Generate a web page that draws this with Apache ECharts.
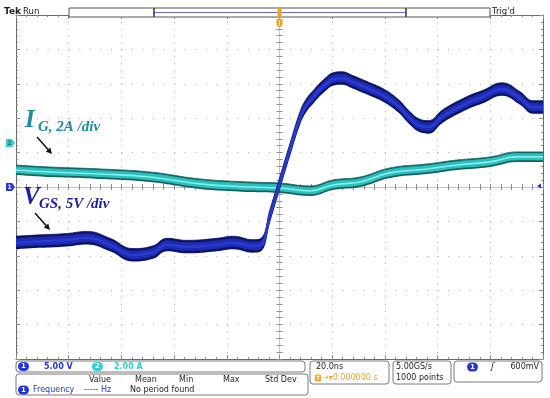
<!DOCTYPE html>
<html><head><meta charset="utf-8">
<script src="https://cdn.jsdelivr.net/npm/echarts@6/dist/echarts.min.js"></script>
<style>html,body{margin:0;padding:0;background:#fff}#c{width:550px;height:398px}</style>
</head><body><div id="c"></div>
<script>
const timeTicksNs = [-100, -80, -60, -40, -20, 0, 20, 40, 60, 80, 100]; // 20 ns/div
const vgsTicksV = [-25, -20, -15, -10, -5, 0, 5, 10, 15, 20, 25];       // 5 V/div
const igScaleA = 2;          // 2 A/div
const ch2PositionDiv = 1.28; // CH2 ground marker above centre

const vgsTimeNs = [-100, -90.9, -80.6, -73.1, -64.3, -55.6, -48.0, -42.7, -35.1, -23.7, -17.6, -10.1, -7.0, -3.6, 0.2, 4.0, 7.8, 10.1, 13.1, 16.9, 20.7, 23.7, 27.5, 34.3, 40.0, 45.0, 49.5, 53.3, 56.4, 62.0, 71.2, 77.2, 84.4, 91.3, 96.2, 100];
const vgsVolts  = [-8.1, -7.9, -7.7, -7.4, -8.4, -9.9, -9.5, -8.4, -8.7, -8.4, -8.1, -8.6, -8.4, -4.2, 0.6, 5.4, 10.0, 11.8, 13.2, 14.7, 15.7, 15.8, 15.3, 14.2, 13.2, 11.8, 10.0, 8.9, 8.7, 10.3, 12.2, 13.1, 14.2, 12.9, 11.6, 11.6];

const igTimeNs = [-100, -87.1, -68.1, -49.1, -30.2, -11.2, 0, 11.6, 20.3, 30.6, 41.9, 56.0, 67.4, 79.9, 90.1, 100];
const igAmps   = [-1.57, -1.69, -1.80, -1.98, -2.38, -2.56, -2.62, -2.79, -2.44, -2.27, -1.74, -1.51, -1.28, -1.10, -0.81, -0.81];

// ---- chart ----
const chart = echarts.init(document.getElementById('c'), null, {renderer: 'canvas'});
const tMin = timeTicksNs[0], tMax = timeTicksNs[timeTicksNs.length - 1], tInt = timeTicksNs[1] - timeTicksNs[0];
const vMin = vgsTicksV[0], vMax = vgsTicksV[vgsTicksV.length - 1], vInt = vgsTicksV[1] - vgsTicksV[0];
const gridH = 344;
const igMin = -(5 + ch2PositionDiv) * igScaleA, igMax = (5 - ch2PositionDiv) * igScaleA;
const frameColor = '#6a6a6a', tickColor = '#8c8c8c', dotColor = '#a8a8a8', centerColor = '#c4c4c4';

function xAx(pos, center, split) {
  return {
    type: 'value', position: pos, min: tMin, max: tMax, interval: tInt,
    axisLine: {show: true, onZero: center, onZeroAxisIndex: 0, lineStyle: {color: center ? centerColor : frameColor, width: 1}},
    axisTick: {show: true, inside: !center, length: center ? 3 : 4, lineStyle: {color: tickColor}},
    minorTick: {show: true, splitNumber: 5, length: center ? 3 : 2, lineStyle: {color: tickColor}},
    axisLabel: {show: false},
    splitLine: {show: split, lineStyle: {color: dotColor, width: 1, type: [1, 5.88]}}
  };
}
function yAx(pos, center, split) {
  return {
    type: 'value', position: pos, min: vMin, max: vMax, interval: vInt,
    axisLine: {show: true, onZero: center, onZeroAxisIndex: 0, lineStyle: {color: center ? centerColor : frameColor, width: 1}},
    axisTick: {show: true, inside: !center, length: center ? 3 : 4, lineStyle: {color: tickColor}},
    minorTick: {show: true, splitNumber: 5, length: center ? 3 : 2, lineStyle: {color: tickColor}},
    axisLabel: {show: false},
    splitLine: {show: split, lineStyle: {color: dotColor, width: 1, type: [1, 9.54]}}
  };
}

const vgsData = vgsTimeNs.map((t, i) => [t, vgsVolts[i]]);
const igData = igTimeNs.map((t, i) => [t, igAmps[i]]);

const SMOOTH = 0.45;
// A scope trace is a vertical noise band around the signal: drawn as a stacked area of fixed pixel height.
// Columns are [value, time] so that the stack is applied to the y (value) dimension.
function band(data, yIdx, unitPerPx, halfPx, color, z, id) {
  const h = halfPx * unitPerPx;
  const base = {type: 'line', xAxisIndex: 0, yAxisIndex: yIdx, stack: id, stackStrategy: 'all', encode: {x: 1, y: 0},
    smooth: SMOOTH, showSymbol: false, symbol: 'none', silent: true, z: z};
  return [
    Object.assign({}, base, {data: data.map(d => [d[1] - h, d[0]]), lineStyle: {width: 0, opacity: 0}}),
    Object.assign({}, base, {data: data.map(d => [2 * h, d[0]]), lineStyle: {width: 0.8, color: color}, areaStyle: {color: color, opacity: 1}})
  ];
}
function line(data, yIdx, color, width, z) {
  return {type: 'line', xAxisIndex: 0, yAxisIndex: yIdx, data: data, smooth: SMOOTH, showSymbol: false, symbol: 'none', silent: true, z: z,
    lineStyle: {color: color, width: width}};
}
const vUpp = (vMax - vMin) / gridH, iUpp = (igMax - igMin) / gridH;

chart.setOption({
  animation: false,
  backgroundColor: '#ffffff',
  grid: {left: 16, top: 15, width: 527, height: gridH, containLabel: false, outerBoundsMode: 'none'},
  xAxis: [xAx('bottom', false, true), xAx('top', false, false), xAx('bottom', true, false), xAx('top', true, false)],
  yAxis: [yAx('left', false, true), yAx('right', false, false), yAx('left', true, false), yAx('right', true, false),
    {type: 'value', position: 'left', show: false, min: igMin, max: igMax, axisLine: {onZero: false}, splitLine: {show: false}}],
  series: [].concat(
    band(igData, 4, iUpp, 5, '#175f61', 3, 'ig1'),
    band(igData, 4, iUpp, 3.3, '#2bbfbd', 4, 'ig2'),
    [line(igData, 4, '#86efe9', 1.6, 5)],
    band(vgsData, 0, vUpp, 6.5, '#0d1364', 6, 'v1'),
    band(vgsData, 0, vUpp, 4, '#1e2cb4', 7, 'v2'),
    [line(vgsData, 0, '#2a3bd2', 2.4, 8)]
  )
});

// ---- decorations (screen annotations) ----
const p1 = chart.convertToPixel({xAxisIndex: 0, yAxisIndex: 0}, [tMin, 0]);
const p2 = chart.convertToPixel({xAxisIndex: 0, yAxisIndex: 4}, [tMin, 0]);
const pc = chart.convertToPixel({xAxisIndex: 0, yAxisIndex: 0}, [0, 0]);
const ui = 'DejaVu Sans';
const serif = 'Liberation Serif';

function txt(x, y, s, o) {
  return {type: 'text', x: x, y: y, z: 100, style: Object.assign({text: s, fontFamily: ui, fontSize: 8, fill: '#222', verticalAlign: 'middle', align: 'left'}, o || {})};
}
function box(x, y, w, h) {
  return {type: 'rect', z: 90, shape: {x: x, y: y, width: w, height: h, r: 3}, style: {fill: '#fff', stroke: '#7a7a7a', lineWidth: 1}};
}
function badge(x, y, color, label, textColor) {
  return [
    {type: 'rect', z: 100, shape: {x: x, y: y - 4.5, width: 11, height: 9, r: 4.5}, style: {fill: color}},
    txt(x + 5.5, y, label, {fill: textColor || '#fff', align: 'center', fontSize: 7, fontWeight: 'bold'})
  ];
}
function arrow(x1, y1, x2, y2) {
  const a = Math.atan2(y2 - y1, x2 - x1), L = 6, W = 3;
  const bx = x2 - L * Math.cos(a), by = y2 - L * Math.sin(a);
  return [
    {type: 'line', z: 100, shape: {x1: x1, y1: y1, x2: bx, y2: by}, style: {stroke: '#111', lineWidth: 1.5}},
    {type: 'polygon', z: 100, shape: {points: [[x2, y2], [bx + W * Math.sin(a), by - W * Math.cos(a)], [bx - W * Math.sin(a), by + W * Math.cos(a)]]}, style: {fill: '#111'}}
  ];
}

const orange = '#f2a324', blue1 = '#2436d6', cyan2 = '#35cfcf';
const g = [];
// top status line
g.push(txt(4, 12, 'Tek', {fontSize: 9, fontWeight: 'bold'}));
g.push(txt(23, 12, 'Run', {fontSize: 8.5}));
g.push({type: 'rect', z: 90, shape: {x: 69, y: 8, width: 421, height: 9}, style: {fill: '#fff', stroke: '#555', lineWidth: 1}});
g.push({type: 'line', z: 95, shape: {x1: 154, y1: 12.5, x2: 406, y2: 12.5}, style: {stroke: '#6a6ae0', lineWidth: 1.2}});
g.push({type: 'line', z: 95, shape: {x1: 154, y1: 8, x2: 154, y2: 17}, style: {stroke: '#333', lineWidth: 1.5}});
g.push({type: 'line', z: 95, shape: {x1: 406, y1: 8, x2: 406, y2: 17}, style: {stroke: '#333', lineWidth: 1.5}});
g.push({type: 'rect', z: 96, shape: {x: pc[0] - 2, y: 7.5, width: 4, height: 10, r: 2}, style: {fill: orange}});
g.push({type: 'rect', z: 96, shape: {x: pc[0] - 3, y: 19, width: 6, height: 8, r: [1, 1, 3, 3]}, style: {fill: orange}});
g.push({type: 'line', z: 97, shape: {x1: pc[0], y1: 20.5, x2: pc[0], y2: 25.5}, style: {stroke: '#fff', lineWidth: 1}});
g.push(txt(492, 12, "Trig'd", {fontSize: 8.5}));

// channel ground markers
g.push({type: 'polygon', z: 100, shape: {points: [[6, p2[1] - 4], [12, p2[1] - 4], [15, p2[1]], [12, p2[1] + 4], [6, p2[1] + 4]]}, style: {fill: cyan2}});
g.push(txt(9.5, p2[1], '2', {fontSize: 6, fill: '#1a6a6a', align: 'center', fontWeight: 'bold'}));
g.push({type: 'polygon', z: 100, shape: {points: [[6, p1[1] - 4], [12, p1[1] - 4], [15, p1[1]], [12, p1[1] + 4], [6, p1[1] + 4]]}, style: {fill: blue1}});
g.push(txt(9.5, p1[1], '1', {fontSize: 6, fill: '#fff', align: 'center', fontWeight: 'bold'}));
// trigger level marker on the right
g.push({type: 'polygon', z: 100, shape: {points: [[537, pc[1] - 1], [541, pc[1] - 3.5], [541, pc[1] + 1.5]]}, style: {fill: blue1}});

// annotations
g.push(txt(25, 121, 'I', {fontFamily: serif, fontSize: 25, fontWeight: 'bold', fontStyle: 'italic', fill: '#1f8aa6'}));
g.push(txt(38, 127, 'G, 2A /div', {fontFamily: serif, fontSize: 15, fontWeight: 'bold', fontStyle: 'italic', fill: '#1f8aa6'}));
g.push(...arrow(37, 137, 52, 154));
g.push(txt(23, 198, 'V', {fontFamily: serif, fontSize: 25, fontWeight: 'bold', fontStyle: 'italic', fill: '#1c1ca4'}));
g.push(txt(39, 204, 'GS, 5V /div', {fontFamily: serif, fontSize: 15, fontWeight: 'bold', fontStyle: 'italic', fill: '#1c1ca4'}));
g.push(...arrow(35, 213, 50, 230));

// bottom readouts
g.push(box(16, 361, 289, 11));
g.push(...badge(18, 366.5, blue1, '1'));
g.push(txt(44, 366.5, '5.00 V', {fill: blue1, fontWeight: 'bold'}));
g.push(...badge(92, 366.5, cyan2, '2'));
g.push(txt(114, 366.5, '2.00 A', {fill: cyan2, fontWeight: 'bold'}));

g.push(box(16, 374, 292, 21));
g.push(txt(89, 380, 'Value'));
g.push(txt(135, 380, 'Mean'));
g.push(txt(179, 380, 'Min'));
g.push(txt(223, 380, 'Max'));
g.push(txt(265, 380, 'Std Dev'));
g.push(...badge(18, 390, blue1, '1'));
g.push(txt(33, 390, 'Frequency', {fill: blue1}));
g.push(txt(84, 390, '----- Hz', {fill: blue1}));
g.push(txt(130, 390, 'No period found'));

g.push(box(310, 361, 79, 23));
g.push(txt(316, 367, '20.0ns'));
g.push({type: 'rect', z: 100, shape: {x: 315, y: 374.5, width: 6, height: 7, r: 1}, style: {fill: orange}});
g.push(txt(318, 378, 'T', {fontSize: 6, fill: '#fff', align: 'center', fontWeight: 'bold'}));
g.push(txt(322, 378, '\u2192\u25BE0.000000 s', {fill: orange}));

g.push(box(393, 361, 58, 23));
g.push(txt(396, 367, '5.00GS/s'));
g.push(txt(396, 378, '1000 points'));

g.push(box(454, 361, 88, 21));
g.push(...badge(467, 367, blue1, '1'));
g.push(txt(491, 367, '\u0283', {fontSize: 9, fontStyle: 'italic'}));
g.push(txt(539, 367, '600mV', {align: 'right'}));

chart.setOption({graphic: {elements: g}});
</script>
</body></html>
